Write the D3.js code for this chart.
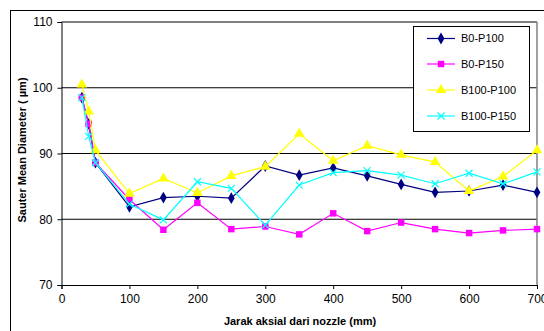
<!DOCTYPE html>
<html>
<head>
<meta charset="utf-8">
<script src="https://cdn.jsdelivr.net/npm/d3@7"></script>
<style>
  html, body { margin: 0; padding: 0; background: #fff; }
  svg { display: block; font-family: "Liberation Sans", Arial, sans-serif; }
</style>
</head>
<body>
<svg id="chart" width="544" height="331"></svg>
<script>
// Axial distance from the nozzle (mm)
const distances = [30, 40, 50, 100, 150, 200, 250, 300, 350, 400, 450, 500, 550, 600, 650, 700];

// Sauter mean diameter (µm) per configuration
const b0p100   = [98.5, 94.5, 88.6, 81.9, 83.3, 83.5, 83.2, 88.1, 86.7, 87.8, 86.6, 85.3, 84.1, 84.3, 85.2, 84.1];
const b0p150   = [98.5, 94.5, 88.6, 83.0, 78.4, 82.5, 78.5, 78.9, 77.7, 80.9, 78.2, 79.5, 78.5, 77.9, 78.3, 78.5];
const b100p100 = [100.5, 96.4, 90.5, 83.9, 86.2, 84.0, 86.6, 88.0, 93.0, 88.9, 91.2, 89.8, 88.7, 84.3, 86.5, 90.5];
const b100p150 = [98.5, 92.6, 88.6, 82.3, 79.9, 85.7, 84.7, 79.1, 85.2, 87.1, 87.4, 86.7, 85.4, 87.0, 85.4, 87.2];

const seriesNames = ["B0-P100", "B0-P150", "B100-P100", "B100-P150"];
const seriesColors = ["#000080", "#FF00FF", "#FFFF00", "#00FFFF"];
const seriesMarkers = ["diamond", "square", "triangle", "cross"];
const seriesValues = [b0p100, b0p150, b100p100, b100p150];

const xTicks = [0, 100, 200, 300, 400, 500, 600, 700];
const yTicks = [70, 80, 90, 100, 110];

const svg = d3.select("#chart");

// Outer chart frame (extends past the right and bottom edges)
svg.append("rect")
  .attr("x", 10.5).attr("y", 10.5)
  .attr("width", 560).attr("height", 340)
  .attr("fill", "#fff").attr("stroke", "#000").attr("stroke-width", 1);

const plot = { left: 61.5, right: 537, top: 22, bottom: 285 };

const x = d3.scaleLinear().domain([0, 700]).range([plot.left, plot.right]);
const y = d3.scaleLinear().domain([70, 110]).range([plot.bottom, plot.top]);

// Horizontal gridlines
svg.append("g")
  .selectAll("line")
  .data(yTicks.filter(t => t > 70))
  .join("line")
  .attr("x1", plot.left).attr("x2", plot.right)
  .attr("y1", d => y(d)).attr("y2", d => y(d))
  .attr("stroke", "#000").attr("stroke-width", 1);

// Plot area right border
svg.append("line")
  .attr("x1", plot.right).attr("x2", plot.right)
  .attr("y1", plot.top).attr("y2", plot.bottom)
  .attr("stroke", "#808080").attr("stroke-width", 1.5);

// Y axis
const yAxis = svg.append("g")
  .attr("transform", `translate(${plot.left},0)`)
  .call(d3.axisLeft(y).tickValues(yTicks).tickSize(4).tickPadding(5).tickFormat(d3.format("d")));
yAxis.select(".domain").attr("stroke", "#000");
yAxis.selectAll("text").attr("font-size", 12).attr("fill", "#000")
  .attr("font-family", "Liberation Sans, Arial, sans-serif");

// X axis
const xAxis = svg.append("g")
  .attr("transform", `translate(0,${plot.bottom})`)
  .call(d3.axisBottom(x).tickValues(xTicks).tickSize(4).tickPadding(5).tickFormat(d3.format("d")));
xAxis.select(".domain").attr("stroke", "#000");
xAxis.selectAll("text").attr("font-size", 12).attr("fill", "#000")
  .attr("font-family", "Liberation Sans, Arial, sans-serif");

// Axis titles
svg.append("text")
  .attr("x", 300).attr("y", 325)
  .attr("text-anchor", "middle")
  .attr("font-size", 11).attr("font-weight", "bold")
  .text("Jarak aksial dari nozzle (mm)");

svg.append("text")
  .attr("transform", "translate(26,150) rotate(-90)")
  .attr("text-anchor", "middle")
  .attr("font-size", 11).attr("font-weight", "bold")
  .text("Sauter Mean Diameter (  µm)");

// Marker shapes
function markerPath(type) {
  switch (type) {
    case "diamond": return d3.symbol(d3.symbolDiamond, 40)();
    case "square": return d3.symbol(d3.symbolSquare, 42)();
    case "triangle": return d3.symbol(d3.symbolTriangle, 48)();
    default: return "M-3.5,-3.5L3.5,3.5M-3.5,3.5L3.5,-3.5";
  }
}

function drawMarker(g, type, color) {
  const p = g.append("path").attr("d", markerPath(type));
  if (type === "cross") {
    p.attr("fill", "none").attr("stroke", color).attr("stroke-width", 1.2);
  } else {
    p.attr("fill", color).attr("stroke", "none");
  }
}

const line = d3.line().x(d => x(d[0])).y(d => y(d[1]));

seriesValues.forEach((vals, i) => {
  const pts = distances.map((d, j) => [d, vals[j]]);
  const g = svg.append("g");
  g.append("path")
    .datum(pts)
    .attr("d", line)
    .attr("fill", "none")
    .attr("stroke", seriesColors[i])
    .attr("stroke-width", 1.2);
  pts.forEach(p => {
    const m = g.append("g").attr("transform", `translate(${x(p[0])},${y(p[1])})`);
    drawMarker(m, seriesMarkers[i], seriesColors[i]);
  });
});

// Legend
const legend = svg.append("g");
legend.append("rect")
  .attr("x", 413.5).attr("y", 26.5)
  .attr("width", 116).attr("height", 105)
  .attr("fill", "#fff").attr("stroke", "#000").attr("stroke-width", 1);

const legendRows = [38.5, 64, 90, 116];
seriesNames.forEach((name, i) => {
  const ly = legendRows[i];
  legend.append("line")
    .attr("x1", 427).attr("x2", 455)
    .attr("y1", ly).attr("y2", ly)
    .attr("stroke", seriesColors[i]).attr("stroke-width", 1.2);
  const m = legend.append("g").attr("transform", `translate(441,${ly})`);
  drawMarker(m, seriesMarkers[i], seriesColors[i]);
  legend.append("text")
    .attr("x", 461).attr("y", ly)
    .attr("dy", "0.35em")
    .attr("font-size", 11)
    .text(name);
});
</script>
</body>
</html>
